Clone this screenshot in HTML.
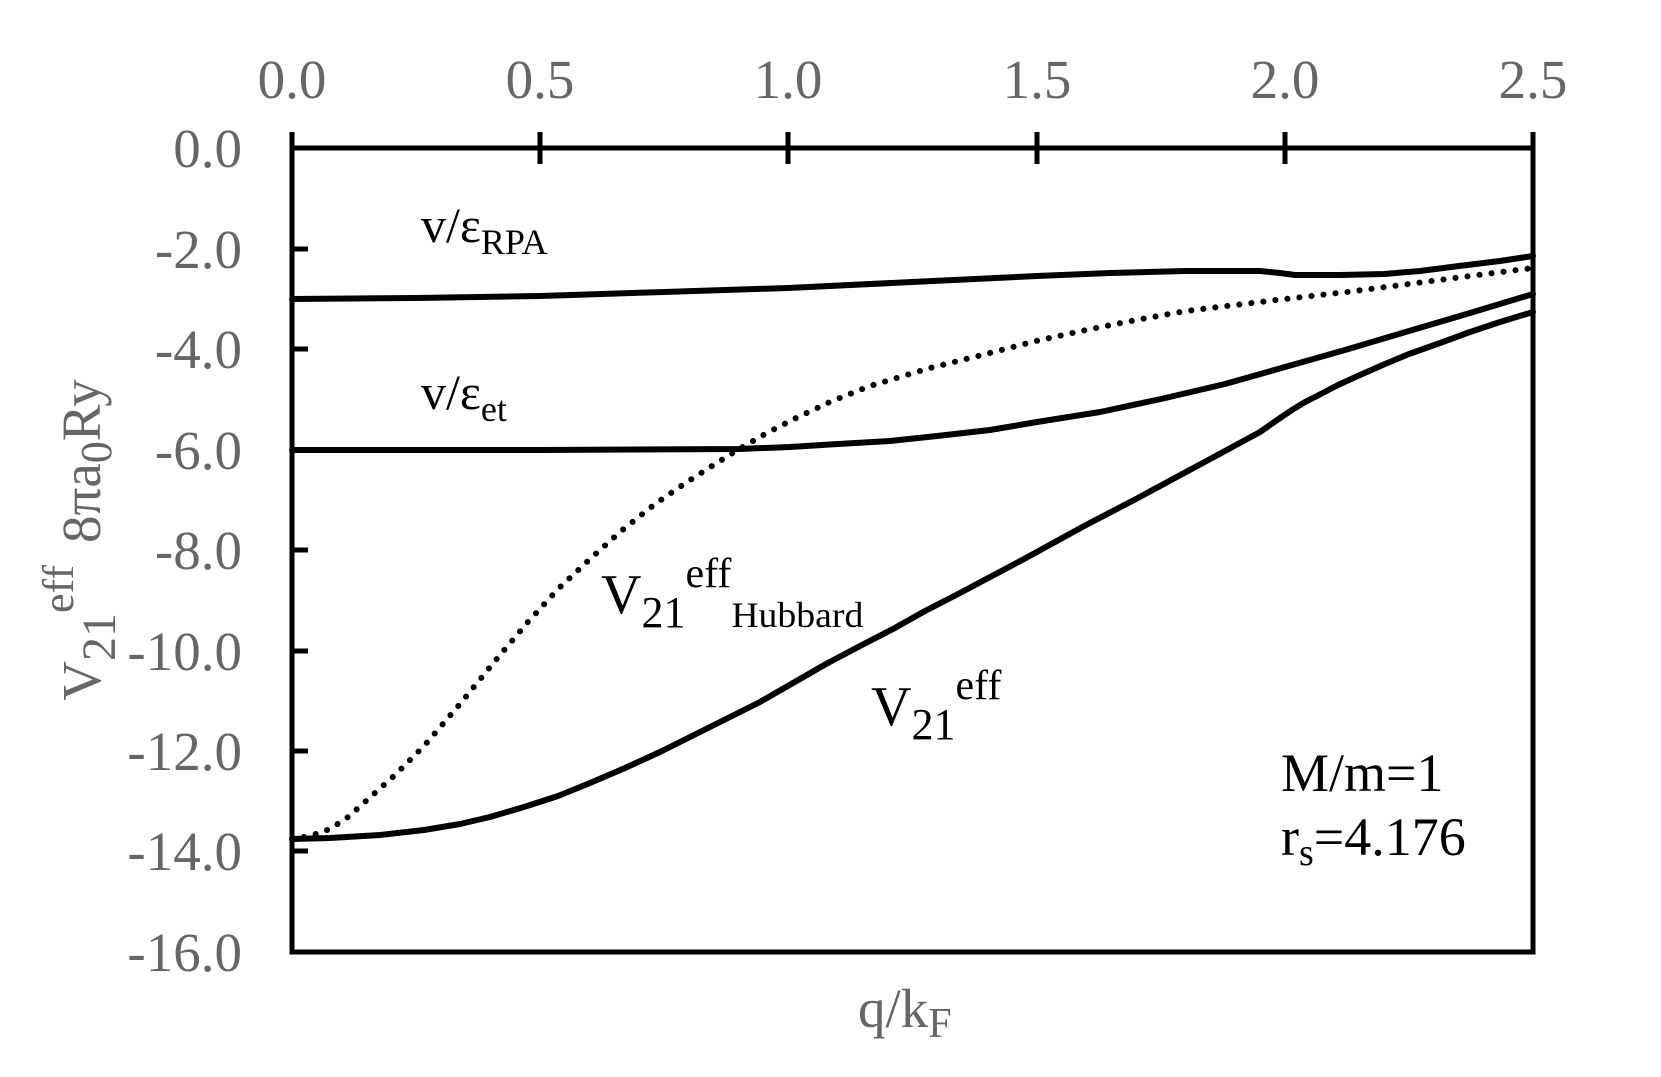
<!DOCTYPE html>
<html><head><meta charset="utf-8"><style>
html,body{margin:0;padding:0;background:#fff;}
svg{display:block;}
.t{font-family:"Liberation Serif",serif;fill:#666;font-size:55px;}
.k{font-family:"Liberation Serif",serif;fill:#000;}
</style></head><body>
<svg width="1661" height="1077" viewBox="0 0 1661 1077" xmlns="http://www.w3.org/2000/svg">
<rect width="1661" height="1077" fill="#fff"/>
<rect x="292" y="148" width="1241" height="804" fill="none" stroke="#000" stroke-width="5"/>
<g stroke="#000" stroke-width="5">
<line x1="540" y1="132" x2="540" y2="164"/>
<line x1="788" y1="132" x2="788" y2="164"/>
<line x1="1037" y1="132" x2="1037" y2="164"/>
<line x1="1285" y1="132" x2="1285" y2="164"/>
<line x1="1533" y1="132" x2="1533" y2="148"/>
<line x1="292" y1="132" x2="292" y2="148"/>
<line x1="292" y1="249" x2="308" y2="249"/>
<line x1="292" y1="349" x2="308" y2="349"/>
<line x1="292" y1="450" x2="308" y2="450"/>
<line x1="292" y1="550" x2="308" y2="550"/>
<line x1="292" y1="651" x2="308" y2="651"/>
<line x1="292" y1="751" x2="308" y2="751"/>
<line x1="292" y1="851" x2="308" y2="851"/>
</g>
<g class="t" text-anchor="middle">
<text x="292" y="98">0.0</text><text x="540" y="98">0.5</text><text x="788" y="98">1.0</text>
<text x="1037" y="98">1.5</text><text x="1285" y="98">2.0</text><text x="1533" y="98">2.5</text>
</g>
<g class="t" text-anchor="end">
<text x="242" y="167">0.0</text><text x="242" y="268">-2.0</text><text x="242" y="368">-4.0</text>
<text x="242" y="469">-6.0</text><text x="242" y="569">-8.0</text><text x="242" y="670">-10.0</text>
<text x="242" y="770">-12.0</text><text x="242" y="870">-14.0</text><text x="242" y="971">-16.0</text>
</g>
<g fill="none" stroke="#000" stroke-width="6" stroke-linejoin="round" stroke-linecap="round">
<polyline points="292,299 416,298 540,296 664,292 788,288 912,282 1037,276 1110,273 1186,271 1260,271 1280,273 1295,275 1340,275 1384,274 1420,271 1459,266 1500,261 1533,256"/>
<polyline points="292,450 540,450 739,449 790,447 838,444 890,441 937,436 990,430 1037,422 1100,412 1161,399 1225,384 1285,367 1345,350 1409,331 1470,313 1533,294"/>
<polyline points="292,839 330,838 380,835 424,830 460,824 490,817 524,807 558,796 590,783 625,768 660,752 692,736 730,717 760,702 793,683 826,664 860,646 893,629 925,611 960,593 992,576 1024,559 1055,542 1086,525 1136,499 1186,472 1225,451 1260,432 1280,418 1292,410 1305,402 1315,397 1338,385 1360,375 1385,364 1409,354 1440,343 1470,332 1500,322 1533,312"/>
<polyline stroke-dasharray="0.1 12" stroke-width="6" points="292,839 310,836 330,829 348,817 366,801 395,775 424,746 460,704 495,661 527,623 558,589 590,559 620,532 655,504 687,482 712,466 736,451 765,434 794,419 832,401 870,386 930,368 986,354 1036,341 1086,330 1136,320 1186,311 1235,305 1285,299 1347,292 1409,284 1470,276 1533,268"/>
</g>
<text class="k" x="421" y="242" font-size="50">v/ε<tspan font-size="36" dy="12">RPA</tspan></text>
<text class="k" x="421" y="409" font-size="50">v/ε<tspan font-size="36" dy="12">et</tspan></text>
<text class="k" x="601" y="613" font-size="56">V<tspan font-size="44" dy="14">21</tspan><tspan font-size="42" dy="-40">eff</tspan><tspan font-size="36" dy="40" textLength="132" lengthAdjust="spacingAndGlyphs">Hubbard</tspan></text>
<text class="k" x="871" y="725" font-size="56">V<tspan font-size="44" dy="14">21</tspan><tspan font-size="42" dy="-40">eff</tspan></text>
<text class="k" x="1281" y="791" font-size="54">M/m=1</text>
<text class="k" x="1281" y="855" font-size="54">r<tspan font-size="38" dy="10">s</tspan><tspan dy="-10">=4.176</tspan></text>
<text class="t" x="858" y="1027" font-size="58">q/k<tspan font-size="42" dy="10">F</tspan></text>
<text class="t" transform="translate(100,540) rotate(-90)" text-anchor="middle" font-size="62">V<tspan font-size="48" dy="15">21</tspan><tspan font-size="44" dy="-42">eff</tspan><tspan dy="27" dx="22">8πa</tspan><tspan font-size="44" dy="11">0</tspan><tspan dy="-11">Ry</tspan></text>
</svg>
</body></html>
